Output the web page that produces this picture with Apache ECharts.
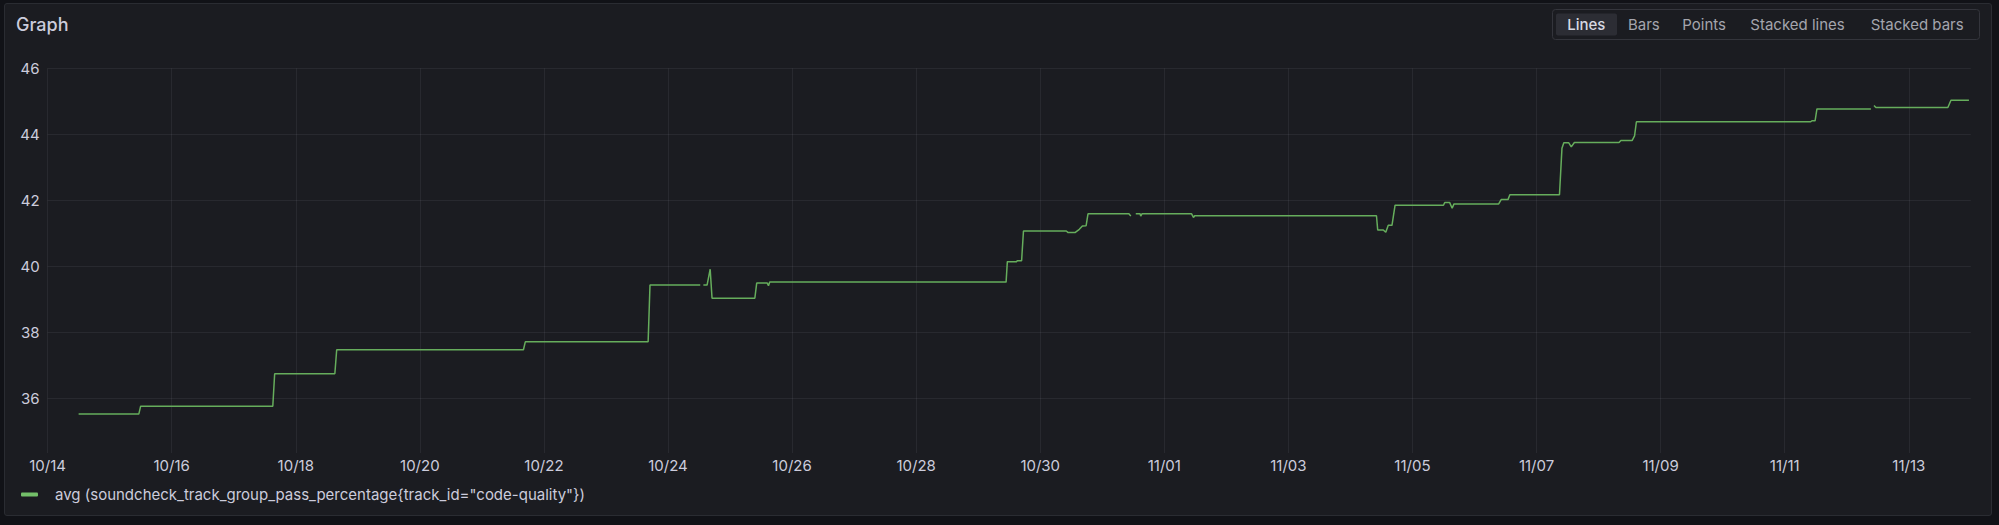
<!DOCTYPE html>
<html>
<head>
<meta charset="utf-8">
<script src="https://cdn.jsdelivr.net/npm/echarts@6/dist/echarts.min.js"></script>
<style>
  html, body { margin: 0; padding: 0; width: 1999px; height: 525px; background: #111217; overflow: hidden; }
  #panel { position: absolute; left: 4px; top: 3px; width: 1986px; height: 511px; background: #1b1c21; border: 1px solid #2a2c32; border-radius: 3px; }
  #chart { position: absolute; left: 0; top: 0; width: 1999px; height: 525px; }
</style>
</head>
<body>
<div id="panel"></div>
<div id="chart"></div>
<script>
// Time as days since 10/14 00:00; null marks a gap in the series
const dayOffsets = [
  0.50, 1.47, 1.50, 3.63, 3.66, 4.63, 4.66, 7.67, 7.70, 9.68, 9.71, 10.52, null,
  10.57, 10.63, 10.68, 10.71, 11.40, 11.43, 11.60, 11.62, 11.64, 15.45, 15.47,
  15.62, 15.63, 15.70, 15.73, 16.42, 16.45, 16.56, 16.63, 16.68, 16.74, 16.77,
  17.43, 17.46, null, 17.54, 17.61, 17.62, 17.64, 18.44, 18.47, 18.49, 21.42,
  21.44, 21.53, 21.57, 21.61, 21.67, 21.72, 22.50, 22.52, 22.60, 22.64, 22.67,
  23.39, 23.43, 23.54, 23.57, 24.37, 24.41, 24.44, 24.52, 24.56, 24.61, 25.33,
  25.36, 25.54, 25.58, 25.61, 28.42, 28.44, 28.49, 28.52, 29.39, null, 29.44,
  29.47, 30.63, 30.68, 30.97
];
const passValues = [
  35.52, 35.52, 35.76, 35.76, 36.74, 36.74, 37.47, 37.47, 37.71, 37.71, 39.43, 39.43, null,
  39.43, 39.43, 39.91, 39.03, 39.03, 39.49, 39.49, 39.41, 39.52, 39.52, 40.14,
  40.14, 40.17, 40.17, 41.07, 41.07, 41.02, 41.02, 41.12, 41.22, 41.23, 41.59,
  41.59, 41.52, null, 41.59, 41.59, 41.52, 41.59, 41.59, 41.48, 41.53, 41.53,
  41.10, 41.10, 41.03, 41.24, 41.24, 41.85, 41.85, 41.93, 41.93, 41.76, 41.89,
  41.89, 42.02, 42.02, 42.17, 42.17, 43.58, 43.74, 43.74, 43.62, 43.75, 43.75,
  43.81, 43.81, 43.95, 44.38, 44.38, 44.41, 44.41, 44.77, 44.77, null, 44.87,
  44.81, 44.81, 45.03, 45.03
];
const xTickLabels = ['10/14','10/16','10/18','10/20','10/22','10/24','10/26','10/28','10/30','11/01','11/03','11/05','11/07','11/09','11/11','11/13'];
const seriesName = 'avg (soundcheck_track_group_pass_percentage{track_id="code-quality"})';
const viewButtons = ['Lines', 'Bars', 'Points', 'Stacked lines', 'Stacked bars'];

const FONT = 'Inter, "Noto Sans", sans-serif';
const data = dayOffsets.map((d, i) => (d === null ? [null, null] : [d, passValues[i]]));

// Button group (Grafana-style radio buttons)
const btnCenters = [1586.3, 1643.8, 1704.2, 1797.5, 1917.2];
const btnElems = [
  { type: 'rect', shape: { x: 1552.5, y: 9.5, width: 427, height: 30, r: 3 }, style: { fill: 'transparent', stroke: '#34353c', lineWidth: 1 } },
  { type: 'rect', shape: { x: 1556, y: 13.5, width: 61, height: 22, r: 2 }, style: { fill: '#2c2d34' } }
];
viewButtons.forEach((t, i) => {
  btnElems.push({
    type: 'text', x: btnCenters[i], y: 24.5,
    style: { text: t, fill: i === 0 ? '#d8d9e2' : '#a4a5ad', font: (i === 0 ? '500 ' : '400 ') + '15px ' + FONT, align: 'center', verticalAlign: 'middle' }
  });
});

const chart = echarts.init(document.getElementById('chart'), null, { renderer: 'svg' });
chart.setOption({
  backgroundColor: 'transparent',
  animation: false,
  textStyle: { fontFamily: FONT },
  title: {
    text: 'Graph', left: 11, top: 10,
    textStyle: { color: '#ccccdc', fontSize: 18, fontWeight: 500, fontFamily: FONT }
  },
  graphic: btnElems,
  legend: {
    left: 16, top: 482,
    icon: 'roundRect', itemWidth: 17, itemHeight: 4,
    formatter: name => '{gap| }' + name,
    textStyle: { color: '#ccccdc', fontSize: 15, fontFamily: FONT, rich: { gap: { width: 12, fontSize: 15 } } },
    data: [seriesName]
  },
  grid: { left: 47.6, right: 28.2, top: 68.3, bottom: 72, containLabel: false },
  xAxis: {
    type: 'value', min: 0, max: 31, interval: 2,
    axisLine: { show: false }, axisTick: { show: false },
    axisLabel: {
      color: '#ccccdc', fontSize: 15, fontFamily: FONT, margin: 5, showMaxLabel: false,
      formatter: v => (Math.abs(v % 2) < 1e-9 ? (xTickLabels[v / 2] || '') : '')
    },
    splitLine: { show: true, showMaxLine: false, lineStyle: { color: 'rgba(204,204,220,0.08)', width: 1 } }
  },
  yAxis: {
    type: 'value', min: 34.34, max: 46, minInterval: 2, maxInterval: 2,
    axisLine: { show: false }, axisTick: { show: false },
    axisLabel: { color: '#ccccdc', fontSize: 15, fontFamily: FONT, margin: 8, showMinLabel: false },
    splitLine: { show: true, showMinLine: false, lineStyle: { color: 'rgba(204,204,220,0.08)', width: 1 } }
  },
  series: [{
    name: seriesName, type: 'line', data: data,
    showSymbol: false, connectNulls: false,
    itemStyle: { color: '#73bf69' },
    lineStyle: { color: '#66ad5c', width: 1.5 }
  }]
});
</script>
</body>
</html>
